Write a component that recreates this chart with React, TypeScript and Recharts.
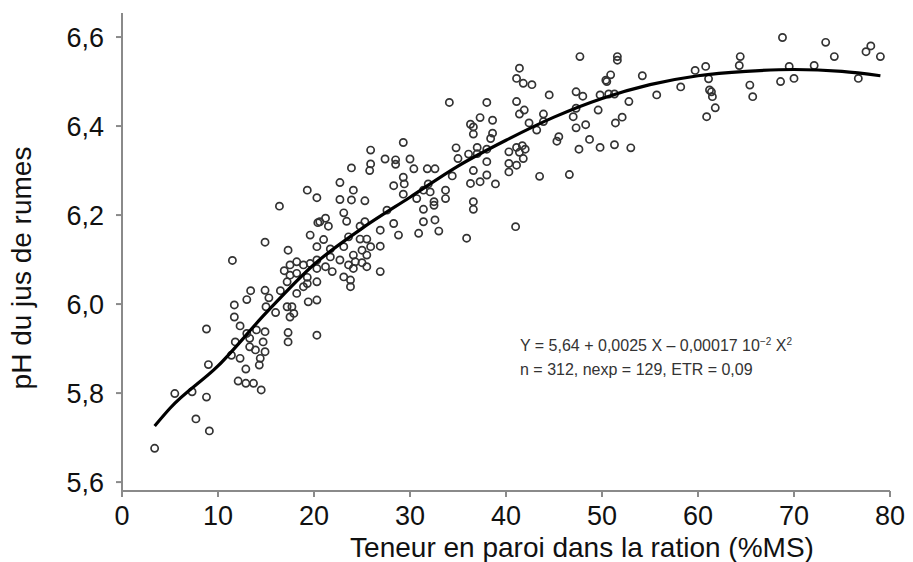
import { ScatterChart, Scatter, XAxis, YAxis } from "recharts";

// Teneur en paroi (%MS) et pH, point par point
const paroi: number[] = [
  3.4, 5.5, 7.3, 8.8, 7.7, 9.1, 8.8, 9.0, 11.5, 11.7, 13.0, 11.7, 15.0, 16.0, 12.3, 13.0, 14.0, 14.9,
  13.3, 14.7, 11.8, 13.3, 13.9, 14.9, 11.4, 12.3, 14.4, 14.3, 12.9, 12.1, 12.9, 13.7, 14.5,
  16.4, 14.9, 17.3, 19.6, 20.4, 20.3, 16.9, 17.5, 18.2, 18.9, 19.6, 20.3, 17.5, 18.2, 17.2, 19.3,
  20.3, 13.4, 14.9, 16.5, 15.3, 18.2, 17.2, 17.7, 17.9, 17.5, 19.4, 20.3, 17.3, 17.3, 20.3,
  25.9, 27.4, 25.9, 25.8, 23.9, 22.7, 24.1, 19.3, 20.3, 22.7, 23.9, 25.3, 23.1, 21.2, 20.6, 23.4,
  21.5, 25.3, 26.9, 24.8, 23.6, 21.0, 21.7, 24.8, 25.5, 25.9, 26.9, 25.0, 23.1, 24.1, 25.5, 21.7,
  22.7, 23.6, 24.3, 25.0, 25.5, 26.9, 24.1, 20.3, 21.2, 21.9, 19.3, 23.1, 23.8, 23.8, 18.9,
  34.1, 38.0, 36.3, 36.6, 37.3, 38.6, 36.6, 38.6, 38.4, 41.1, 41.1, 29.3, 34.8, 37.0, 38.0, 36.1,
  37.0, 40.3, 41.1, 28.5, 28.5, 30.0, 35.0, 38.0, 40.3, 41.1, 30.4, 31.8, 32.6, 36.6, 40.3, 34.4,
  38.0, 29.3, 28.3, 29.4, 31.9, 36.3, 37.3, 38.9, 29.3, 31.4, 32.1, 33.7, 33.7, 30.7, 32.5, 31.4,
  32.5, 36.6, 36.6, 27.6, 28.3, 31.4, 32.6, 33.0, 30.9, 28.8, 35.9, 41.0,
  47.7, 51.6, 51.6, 41.4, 54.2, 50.9, 50.4, 50.5, 41.8, 42.7, 44.5, 47.3, 48.0, 49.8, 50.7, 51.3,
  55.7, 58.2, 52.8, 41.9, 41.4, 43.9, 47.3, 49.6, 47.0, 52.1, 42.4, 43.9, 43.2, 51.4, 48.3, 47.3,
  41.7, 41.4, 42.0, 41.8, 45.3, 45.5, 48.7, 47.6, 49.8, 51.3, 53.0, 43.5, 46.6,
  68.8, 73.3, 78.0, 77.5, 79.0, 74.2, 64.4, 64.3, 59.7, 60.8, 61.1, 61.2, 61.4, 61.5, 61.8, 60.9,
  65.4, 65.7, 68.6, 69.5, 70.0, 72.1, 76.7,
];

const ph: number[] = [
  5.676, 5.799, 5.803, 5.791, 5.742, 5.715, 5.944, 5.864, 6.098, 5.998, 6.01, 5.971, 5.994, 5.981, 5.951, 5.934, 5.942, 5.938,
  5.923, 5.915, 5.915, 5.904, 5.897, 5.893, 5.885, 5.878, 5.878, 5.863, 5.854, 5.827, 5.822, 5.822, 5.807,
  6.22, 6.139, 6.121, 6.155, 6.183, 6.129, 6.075, 6.088, 6.095, 6.088, 6.091, 6.099, 6.065, 6.069, 6.05, 6.046,
  6.05, 6.03, 6.031, 6.03, 6.014, 6.024, 5.994, 5.994, 5.979, 5.971, 6.005, 6.009, 5.936, 5.915, 5.93,
  6.346, 6.326, 6.315, 6.3, 6.306, 6.273, 6.256, 6.256, 6.239, 6.235, 6.234, 6.232, 6.205, 6.193, 6.185, 6.186,
  6.175, 6.185, 6.166, 6.175, 6.151, 6.145, 6.124, 6.146, 6.146, 6.129, 6.13, 6.121, 6.129, 6.11, 6.11, 6.106,
  6.099, 6.088, 6.095, 6.093, 6.084, 6.073, 6.08, 6.08, 6.084, 6.073, 6.06, 6.061, 6.054, 6.039, 6.039,
  6.453, 6.453, 6.404, 6.398, 6.419, 6.413, 6.382, 6.384, 6.372, 6.507, 6.455, 6.363, 6.351, 6.352, 6.348, 6.337,
  6.338, 6.342, 6.352, 6.324, 6.314, 6.326, 6.327, 6.32, 6.316, 6.312, 6.304, 6.304, 6.304, 6.3, 6.297, 6.288,
  6.29, 6.285, 6.266, 6.27, 6.27, 6.271, 6.275, 6.27, 6.247, 6.256, 6.252, 6.256, 6.237, 6.237, 6.23, 6.213,
  6.222, 6.23, 6.213, 6.211, 6.181, 6.185, 6.189, 6.164, 6.159, 6.155, 6.148, 6.174,
  6.556, 6.556, 6.548, 6.53, 6.513, 6.515, 6.503, 6.5, 6.496, 6.493, 6.47, 6.477, 6.467, 6.47, 6.472, 6.472,
  6.47, 6.488, 6.455, 6.436, 6.427, 6.427, 6.44, 6.436, 6.421, 6.42, 6.407, 6.41, 6.391, 6.407, 6.403, 6.396,
  6.356, 6.341, 6.348, 6.327, 6.366, 6.376, 6.37, 6.348, 6.352, 6.358, 6.351, 6.287, 6.291,
  6.599, 6.588, 6.58, 6.567, 6.556, 6.556, 6.556, 6.536, 6.525, 6.534, 6.506, 6.481, 6.477, 6.466, 6.441, 6.421,
  6.492, 6.466, 6.5, 6.534, 6.507, 6.536, 6.507,
];

// courbe d'ajustement
const courbeX = [3.4, 5, 10, 15, 20, 25, 30, 35, 40, 45, 50, 55, 60, 65, 70, 75, 79];
const courbeY = [5.726, 5.766, 5.861, 5.98, 6.089, 6.17, 6.24, 6.31, 6.368, 6.42, 6.462, 6.493, 6.513, 6.523, 6.527, 6.523, 6.513];

const xTicks = [0, 10, 20, 30, 40, 50, 60, 70, 80];
const yTicks = [5.6, 5.8, 6.0, 6.2, 6.4, 6.6];

const FONT = "'Liberation Sans', Arial, Helvetica, sans-serif";
const AXIS = "#8a8a8a";

const points = paroi.map((x, i) => ({ x, y: ph[i] }));
const fit = courbeX.map((x, i) => ({ x, y: courbeY[i] }));

// eslint-disable-next-line @typescript-eslint/no-explicit-any
function Ring(props: any) {
  const { cx, cy } = props;
  if (cx == null || cy == null) return <g />;
  return <circle cx={cx} cy={cy} r={3.6} fill="none" stroke="#333" strokeWidth={1.7} />;
}

export default function App() {
  return (
    <div
      style={{
        position: "absolute",
        left: 0,
        top: 0,
        width: 913,
        height: 562,
        background: "#fff",
        fontFamily: FONT,
        overflow: "hidden",
      }}
    >
      <ScatterChart width={913} height={562} margin={{ top: 13, right: 23, bottom: 0, left: 0 }}>
        <XAxis
          type="number"
          dataKey="x"
          domain={[0, 80]}
          ticks={xTicks}
          allowDataOverflow
          height={71}
          stroke={AXIS}
          tick={{ fill: "#111", fontSize: 27, fontFamily: FONT }}
          axisLine={{ stroke: AXIS, strokeWidth: 2 }}
          tickLine={{ stroke: AXIS, strokeWidth: 2 }}
          tickSize={6}
          tickMargin={9}
        />
        <YAxis
          type="number"
          dataKey="y"
          domain={[5.58, 6.654]}
          ticks={yTicks}
          allowDataOverflow
          width={122}
          stroke={AXIS}
          tickFormatter={(v: number) => v.toFixed(1).replace(".", ",")}
          tick={{ fill: "#111", fontSize: 27, fontFamily: FONT }}
          axisLine={{ stroke: AXIS, strokeWidth: 2 }}
          tickLine={{ stroke: AXIS, strokeWidth: 2 }}
          tickSize={6}
          tickMargin={12}
        />
        <Scatter data={points} shape={<Ring />} isAnimationActive={false} />
        <Scatter
          data={fit}
          line={{ stroke: "#000", strokeWidth: 3.2 }}
          lineJointType="monotone"
          shape={() => <g />}
          isAnimationActive={false}
        />
      </ScatterChart>

      <div
        style={{
          position: "absolute",
          left: 22,
          top: 268,
          transform: "translate(-50%, -50%) rotate(-90deg)",
          whiteSpace: "nowrap",
          fontSize: 28,
          lineHeight: "30px",
          color: "#111",
        }}
      >
        pH du jus de rumes
      </div>
      <div
        style={{
          position: "absolute",
          left: 582,
          top: 534,
          transform: "translateX(-50%)",
          whiteSpace: "nowrap",
          fontSize: 28,
          lineHeight: "28px",
          color: "#111",
        }}
      >
        Teneur en paroi dans la ration (%MS)
      </div>
      <div
        style={{
          position: "absolute",
          left: 520,
          top: 334,
          whiteSpace: "nowrap",
          fontSize: 16,
          lineHeight: "24px",
          color: "#333",
        }}
      >
        <div>
          Y = 5,64 + 0,0025 X – 0,00017 10<sup style={{ fontSize: 10, lineHeight: 0 }}>−2</sup> X
          <sup style={{ fontSize: 10, lineHeight: 0 }}>2</sup>
        </div>
        <div>n = 312, nexp = 129, ETR = 0,09</div>
      </div>
    </div>
  );
}
